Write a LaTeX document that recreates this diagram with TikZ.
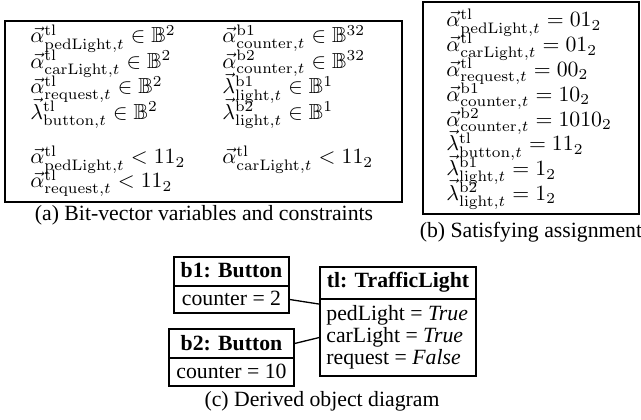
\documentclass[tikz,border=0pt]{standalone}
\usepackage{amsmath,amssymb}
\usepackage[no-math]{fontspec}
\setmainfont{Liberation Serif}
\usetikzlibrary{fit}
\newcommand\myva[3]{\vec{\alpha}^{\mathrm{#1}}_{\mathrm{#2},t}}
\newcommand\myvl[3]{\vec{\lambda}^{\mathrm{#1}}_{\mathrm{#2},t}}
\tikzset{
  mrow/.style={anchor=base west, inner sep=0pt},
  captext/.style={anchor=base, inner sep=0pt},
  frame/.style={draw, line width=0.6pt, inner sep=0pt},
  objtext/.style={anchor=base, inner sep=0pt},
  attr/.style={anchor=base west, inner sep=0pt},
  link/.style={line width=0.6pt},
}
\begin{document}
\begin{tikzpicture}[x=0.4598pt,y=-0.4598pt]
\useasboundingbox (0,0) rectangle (641,420);
% (a)
\node[frame, fit={(5,21)(402,202)}] (fa) {};
\node[mrow] (a1) at (30,43) {$\myva{tl}{pedLight}{} \in \mathbb{B}^2$};
\node[mrow] (a2) at (30,68.5) {$\myva{tl}{carLight}{} \in \mathbb{B}^2$};
\node[mrow] (a3) at (30,94) {$\myva{tl}{request}{} \in \mathbb{B}^2$};
\node[mrow] (a4) at (30,119.5) {$\myvl{tl}{button}{} \in \mathbb{B}^2$};
\node[mrow] (a5) at (222,43) {$\myva{b1}{counter}{} \in \mathbb{B}^{32}$};
\node[mrow] (a6) at (222,68.5) {$\myva{b2}{counter}{} \in \mathbb{B}^{32}$};
\node[mrow] (a7) at (222,94) {$\myvl{b1}{light}{} \in \mathbb{B}^1$};
\node[mrow] (a8) at (222,119.5) {$\myvl{b2}{light}{} \in \mathbb{B}^1$};
\node[mrow] (a9) at (30,164) {$\myva{tl}{pedLight}{} < 11_2$};
\node[mrow] (a10) at (222,164) {$\myva{tl}{carLight}{} < 11_2$};
\node[mrow] (a11) at (30,188) {$\myva{tl}{request}{} < 11_2$};
\node[captext] (capa) at (204,221) {(a) Bit-vector variables and constraints};
% (b)
\node[frame, fit={(423,2)(639,214)}] (fb) {};
\node[mrow] (b1r) at (446,27) {$\myva{tl}{pedLight}{} = 01_2$};
\node[mrow] (b2r) at (446,51.8) {$\myva{tl}{carLight}{} = 01_2$};
\node[mrow] (b3r) at (446,76.6) {$\myva{tl}{request}{} = 00_2$};
\node[mrow] (b4r) at (446,101.4) {$\myva{b1}{counter}{} = 10_2$};
\node[mrow] (b5r) at (446,126.2) {$\myva{b2}{counter}{} = 1010_2$};
\node[mrow] (b6r) at (446,151) {$\myvl{tl}{button}{} = 11_2$};
\node[mrow] (b7r) at (446,175.8) {$\myvl{b1}{light}{} = 1_2$};
\node[mrow] (b8r) at (446,200.6) {$\myvl{b2}{light}{} = 1_2$};
\node[captext] (capb) at (531,238) {(b) Satisfying assignment};
% (c)
\node[frame, fit={(174,257)(289,286)}] (b1h) {};
\node[frame, fit={(174,286)(289,313)}] (b1b) {};
\node[frame, fit={(169,329)(294,358)}] (b2h) {};
\node[frame, fit={(169,358)(294,386)}] (b2b) {};
\node[frame, fit={(320,267)(476,299)}] (tlh) {};
\node[frame, fit={(320,299)(476,376)}] (tlb) {};
\node[objtext] (b1ht) at (231.5,278) {\textbf{b1: Button}};
\node[objtext] (b1bt) at (231.5,306) {counter = 2};
\node[objtext] (b2ht) at (231.5,351) {\textbf{b2: Button}};
\node[objtext] (b2bt) at (231.5,379) {counter = 10};
\node[objtext] (tlht) at (398,288) {\textbf{tl: TrafficLight}};
\node[attr] (tla1) at (326,321) {pedLight = \textit{True}};
\node[attr] (tla2) at (326,343) {carLight = \textit{True}};
\node[attr] (tla3) at (326,365) {request = \textit{False}};
\draw[link] (b1b.east) -- (tlb.157);
\draw[link] (b2h.east) -- (tlb.west);
\node[captext] (capc) at (322,407) {(c) Derived object diagram};
\end{tikzpicture}
\end{document}
